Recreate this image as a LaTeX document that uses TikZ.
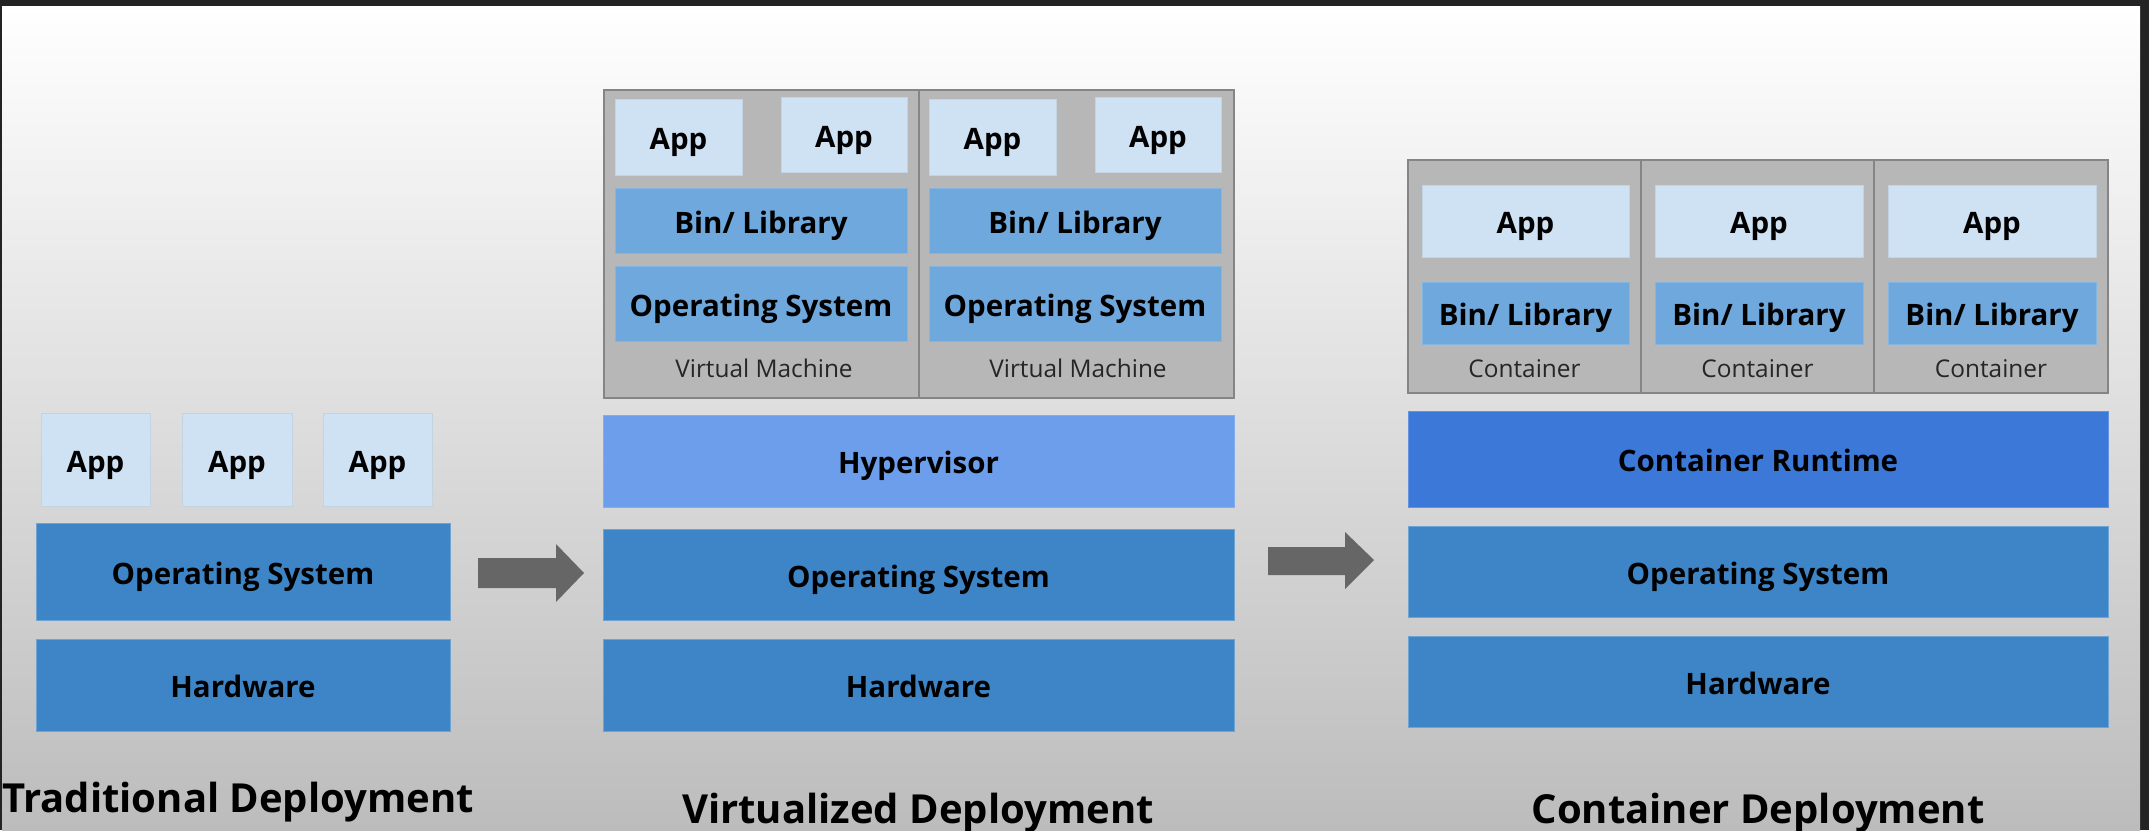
\documentclass[tikz,border=0pt]{standalone}
\usepackage{fontspec}
\setmainfont{Open Sans}
\definecolor{frame}{HTML}{232323}
\definecolor{bgtop}{HTML}{FFFFFF}
\definecolor{bgbot}{HTML}{BCBCBC}
\definecolor{applight}{HTML}{CFE2F3}
\definecolor{midblue}{HTML}{6FA8DC}
\definecolor{deepblue}{HTML}{3D85C6}
\definecolor{hypblue}{HTML}{6D9EEB}
\definecolor{rtblue}{HTML}{3C78D8}
\definecolor{vmgray}{HTML}{B7B7B7}
\definecolor{vmline}{HTML}{858585}
\definecolor{arrowgray}{HTML}{666666}
\tikzset{
  layer/.style={rectangle, inner sep=0pt, text=black, text height=25pt, text depth=0pt,
    font=\fontsize{29.5}{34}\selectfont\bfseries},
  appbox/.style={layer, fill=applight, draw=applight!85!gray, line width=0.8pt},
  midbox/.style={layer, fill=midblue, draw=midblue!85!white, line width=0.8pt},
  deepbox/.style={layer, fill=deepblue, draw=deepblue!75!white, line width=0.8pt},
  hypbox/.style={layer, fill=hypblue, draw=hypblue!85!white, line width=0.8pt},
  rtbox/.style={layer, fill=rtblue, draw=rtblue!80!white, line width=0.8pt},
  graybox/.style={rectangle, inner sep=0pt, fill=vmgray, draw=vmline, line width=1.6pt},
  smalllabel/.style={inner sep=0pt, text=black!85, font=\fontsize{24.4}{28}\selectfont},
  titlelabel/.style={inner sep=0pt, anchor=base, text=black, font=\fontsize{40}{46}\selectfont\bfseries},
  blockarrow/.style={fill=arrowgray}
}
\begin{document}
\begin{tikzpicture}[x=1pt, y=-1pt]
\useasboundingbox (0,0) rectangle (2149,830);
% frame and background
\fill[frame] (0,0) rectangle (2149,830);
\shade[top color=bgtop, bottom color=bgbot] (2,6) rectangle (2140,830);

% ---------------- Traditional ----------------
\node[appbox, minimum width=109, minimum height=93] (tapp1) at (95.5,459.5) {App};
\node[appbox, minimum width=110, minimum height=93] (tapp2) at (237,459.5) {App};
\node[appbox, minimum width=109, minimum height=93] (tapp3) at (377.5,459.5) {App};
\node[deepbox, minimum width=414, minimum height=97] (tos) at (243,571.5) {Operating System};
\node[deepbox, minimum width=414, minimum height=92] (thw) at (243,685) {Hardware};
\node[titlelabel] (ttitle) at (238,812) {Traditional Deployment};

% arrow 1
\fill[blockarrow] (478,558) -- (556,558) -- (556,544) -- (584,573) -- (556,602) -- (556,588) -- (478,588) -- cycle;

% ---------------- Virtualized ----------------
\node[graybox, minimum width=630, minimum height=308] (vmbox) at (919,244) {};
\draw[vmline, line width=1.4pt] (vmbox.north) -- (vmbox.south);
% VM 1
\node[appbox, minimum width=127, minimum height=76] (v1app1) at (678.5,137) {App};
\node[appbox, minimum width=126, minimum height=75] (v1app2) at (844,134.5) {App};
\node[midbox, minimum width=292, minimum height=65] (v1bin) at (761,220.5) {Bin/ Library};
\node[midbox, minimum width=292, minimum height=75] (v1os) at (761,303.5) {Operating System};
\node[smalllabel] (v1lab) at (764,368) {Virtual Machine};
% VM 2
\node[appbox, minimum width=127, minimum height=76] (v2app1) at (992.5,137) {App};
\node[appbox, minimum width=126, minimum height=75] (v2app2) at (1158,134.5) {App};
\node[midbox, minimum width=292, minimum height=65] (v2bin) at (1075,220.5) {Bin/ Library};
\node[midbox, minimum width=292, minimum height=75] (v2os) at (1075,303.5) {Operating System};
\node[smalllabel] (v2lab) at (1078,368) {Virtual Machine};
% lower layers
\node[hypbox, minimum width=631, minimum height=92] (hyp) at (918.5,461) {Hypervisor};
\node[deepbox, minimum width=631, minimum height=91] (vos) at (918.5,574.5) {Operating System};
\node[deepbox, minimum width=631, minimum height=92] (vhw) at (918.5,685) {Hardware};
\node[titlelabel] (vtitle) at (918,823) {Virtualized Deployment};

% arrow 2
\fill[blockarrow] (1268,547) -- (1345,547) -- (1345,532) -- (1374,560) -- (1345,589) -- (1345,575) -- (1268,575) -- cycle;

% ---------------- Container ----------------
\node[graybox, minimum width=700, minimum height=233] (ctbox) at (1758,276.5) {};
\draw[vmline, line width=1.4pt] (1641,160) -- (1641,393);
\draw[vmline, line width=1.4pt] (1874,160) -- (1874,393);
\node[appbox, minimum width=207, minimum height=72] (capp1) at (1525.5,221) {App};
\node[appbox, minimum width=208, minimum height=72] (capp2) at (1759,221) {App};
\node[appbox, minimum width=208, minimum height=72] (capp3) at (1992,221) {App};
\node[midbox, minimum width=207, minimum height=62] (cbin1) at (1525.5,313) {Bin/ Library};
\node[midbox, minimum width=208, minimum height=62] (cbin2) at (1759,313) {Bin/ Library};
\node[midbox, minimum width=208, minimum height=62] (cbin3) at (1992,313) {Bin/ Library};
\node[smalllabel] (clab1) at (1524.5,369) {Container};
\node[smalllabel] (clab2) at (1757.5,369) {Container};
\node[smalllabel] (clab3) at (1991,369) {Container};
\node[rtbox, minimum width=700, minimum height=96] (crt) at (1758,459) {Container Runtime};
\node[deepbox, minimum width=700, minimum height=91] (cos) at (1758,571.5) {Operating System};
\node[deepbox, minimum width=700, minimum height=91] (chw) at (1758,681.5) {Hardware};
\node[titlelabel] (ctitle) at (1758,823) {Container Deployment};
\end{tikzpicture}
\end{document}
